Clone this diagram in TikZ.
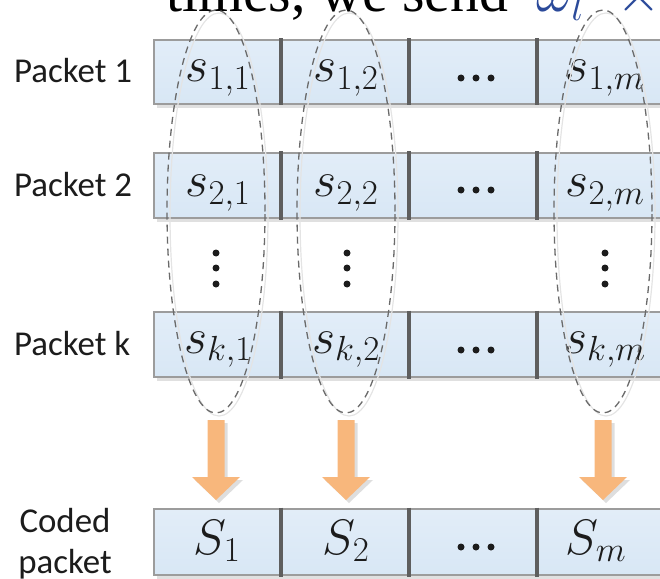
\RequirePackage{fix-cm}
\documentclass[tikz,border=0pt]{standalone}
\usepackage{fontspec}
\newfontfamily\headfont{Liberation Serif}
\newfontfamily\labelfont{Carlito}
\usetikzlibrary{shapes.geometric,calc}

\definecolor{celltop}{HTML}{E2EDF8}
\definecolor{cellbottom}{HTML}{D8E7F5}
\definecolor{cellborder}{HTML}{9C9C9C}
\definecolor{divider}{HTML}{5E5E5E}
\definecolor{ringgray}{HTML}{6A6A6A}
\definecolor{ringshade}{HTML}{E4E4E4}
\definecolor{arroworange}{HTML}{F8B77C}
\definecolor{arrowshadow}{HTML}{DEDEDE}
\definecolor{headblue}{HTML}{2B4A9A}
\definecolor{inkdark}{HTML}{1C1C1C}

\tikzset{
  rowshadow/.style={fill=black!12},
  rowbox/.style={top color=celltop, bottom color=cellbottom, draw=cellborder, line width=1.2bp},
  divline/.style={draw=divider, line width=3.4bp},
  ring/.style={ellipse, draw=ringgray, line width=1.3bp, dash pattern=on 7bp off 5bp,
               minimum width=98bp, minimum height=403bp, inner sep=0pt, outer sep=0pt},
  ringshadow/.style={draw=ringshade, line width=1.2bp},
  packetlabel/.style={font=\labelfont\fontsize{35}{40}\selectfont, text=inkdark, inner sep=0pt},
  celltext/.style={font=\fontsize{50}{54}\selectfont, text=inkdark, inner sep=0pt, anchor=base},
  dotmark/.style={fill=inkdark},
  blockarrow/.pic={
    \fill[arrowshadow] (-5.5,3) -- (11.5,3) -- (11.5,60) -- (27,60) -- (3,83) -- (-21,60) -- (-5.5,60) -- cycle;
    \fill[arroworange] (-8.5,0) -- (8.5,0) -- (8.5,57) -- (24,57) -- (0,80) -- (-24,57) -- (-8.5,57) -- cycle;
  }
}

\begin{document}
\begin{tikzpicture}[x=1bp,y=-1bp]
\useasboundingbox (0,0) rectangle (660,579);
\begin{scope}
\clip (0,0) rectangle (660,579);

% running text of the page above the figure
\node[anchor=base west, inner sep=0pt, font=\headfont\fontsize{58}{62}\selectfont] (headline) at (166,12) {times, we send};
\node[anchor=base west, inner sep=0pt, text=headblue, font=\fontsize{58}{62}\selectfont] (headmath) at (536,12) {$\omega_l\;\;\times$};

% packet rows: shadow, shaded bar, thick separators
\foreach \rtop/\rht in {40/64, 153/65, 312/65, 509/66} {
  \fill[rowshadow] (157,\rtop+4) rectangle (675,\rtop+\rht+4);
  \shade[rowbox] (154,\rtop) rectangle (672,\rtop+\rht);
  \foreach \dx in {281,409,537}
    \draw[divline] (\dx,\rtop-1.5) -- (\dx,\rtop+\rht+1.5);
}

% row labels
\node[packetlabel, anchor=base west] (lab1) at (14,83) {Packet 1};
\node[packetlabel, anchor=base west] (lab2) at (14,197) {Packet 2};
\node[packetlabel, anchor=base west] (labk) at (14,355) {Packet k};
\node[packetlabel, anchor=base] (labc1) at (65,532) {Coded};
\node[packetlabel, anchor=base] (labc2) at (65,573) {packet};

% symbols in the packets
\node[celltext] (s11) at (218,82) {$s_{1,1}$};
\node[celltext] (s12) at (346,82) {$s_{1,2}$};
\node[celltext] (s1m) at (605,82) {$s_{1,m}$};
\node[celltext] (s21) at (218,197) {$s_{2,1}$};
\node[celltext] (s22) at (346,197) {$s_{2,2}$};
\node[celltext] (s2m) at (605,197) {$s_{2,m}$};
\node[celltext] (sk1) at (218,353) {$s_{k,1}$};
\node[celltext] (sk2) at (346,353) {$s_{k,2}$};
\node[celltext] (skm) at (605,353) {$s_{k,m}$};
\node[celltext] (c1) at (217,554) {$S_1$};
\node[celltext] (c2) at (346,554) {$S_2$};
\node[celltext] (cm) at (596,554) {$S_m$};

% horizontal ellipses in the third column
\foreach \dy in {78,190,350,547}
  \foreach \dx in {461,476,491}
    \fill[dotmark] (\dx,\dy) circle (3.5);

% vertical ellipses between packet 2 and packet k
\foreach \dx in {216,347,605}
  \foreach \dy in {253,268,284}
    \fill[dotmark] (\dx,\dy) circle (3.5);

% grouping rings over the columns
\foreach \cx in {216,346,603}
  \draw[ringshadow] (\cx+3,214.5) ellipse [x radius=49, y radius=201.5];
\node[ring] (ring1) at (216,211.5) {};
\node[ring] (ring2) at (346,211.5) {};
\node[ring] (ring3) at (603,211.5) {};

% block arrows from each ring to the coded symbol
\pic at ($(ring1.south)+(0,7)$) {blockarrow};
\pic at ($(ring2.south)+(0,7)$) {blockarrow};
\pic at ($(ring3.south)+(0,7)$) {blockarrow};
\end{scope}
\end{tikzpicture}
\end{document}
